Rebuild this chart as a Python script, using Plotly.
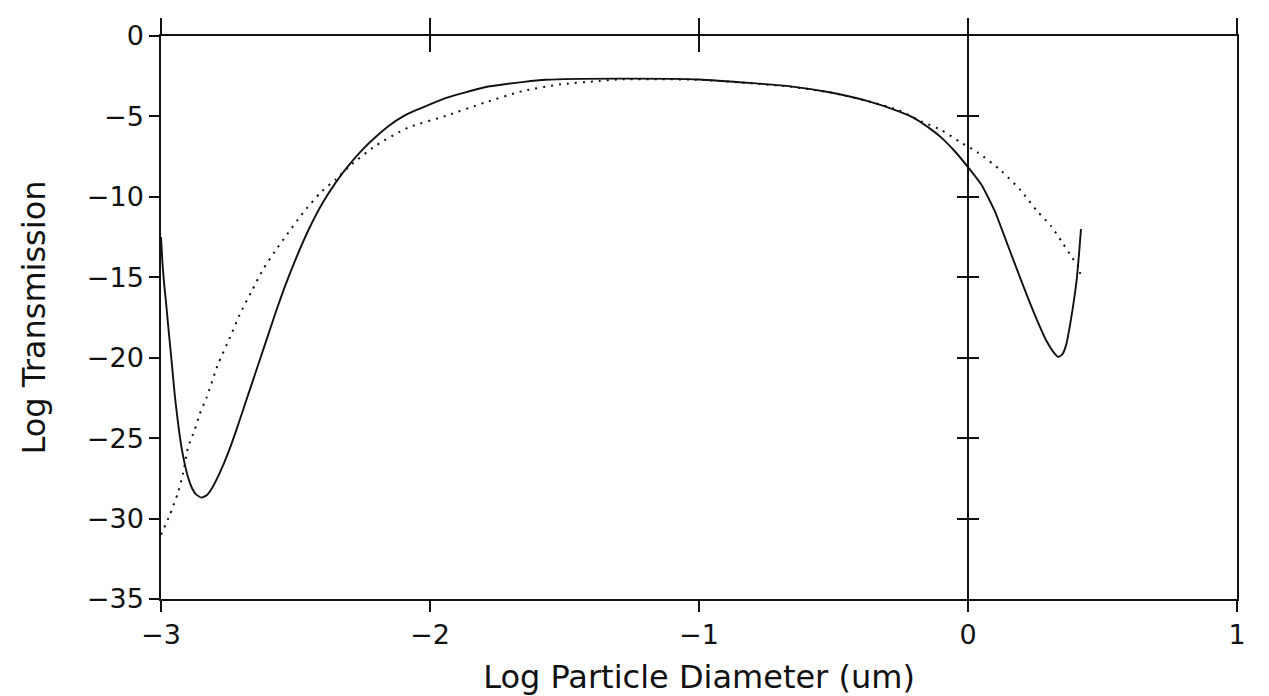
import plotly.graph_objects as go

# Solid curve (log transmission vs log particle diameter)
solid_x = [-3.0, -2.995, -2.99, -2.98, -2.97, -2.96, -2.949, -2.94, -2.93, -2.918, -2.90,
           -2.885, -2.87, -2.85, -2.83, -2.81, -2.78, -2.75, -2.72, -2.69, -2.66, -2.63,
           -2.60, -2.57, -2.54, -2.50, -2.45, -2.40, -2.35, -2.30, -2.25, -2.20, -2.15,
           -2.10, -2.05, -2.0, -1.94, -1.8, -1.65, -1.57, -1.3, -1.0, -0.8, -0.66, -0.515,
           -0.372, -0.26, -0.2, -0.15, -0.1, -0.05, 0.0, 0.05, 0.1, 0.15, 0.2, 0.25, 0.29,
           0.32, 0.335, 0.35, 0.365, 0.38, 0.395, 0.405, 0.413, 0.42]
solid_y = [-12.5, -14.0, -15.1, -16.8, -18.6, -20.3, -22.3, -23.6, -24.9, -26.1, -27.4,
           -28.1, -28.5, -28.7, -28.55, -28.1, -27.1, -25.9, -24.5, -23.0, -21.5, -20.0,
           -18.5, -17.0, -15.6, -13.9, -12.0, -10.4, -9.1, -8.0, -7.05, -6.25, -5.55,
           -5.0, -4.6, -4.25, -3.85, -3.2, -2.85, -2.72, -2.65, -2.7, -2.93, -3.13, -3.5,
           -4.05, -4.67, -5.1, -5.65, -6.3, -7.15, -8.15, -9.25, -10.9, -13.1, -15.3,
           -17.4, -18.9, -19.7, -19.95, -19.8, -19.2, -17.9, -16.3, -15.0, -13.5, -12.0]

# Dotted curve
dot_x = [-3.0, -2.968, -2.937, -2.918, -2.90, -2.875, -2.856, -2.831, -2.788, -2.745,
         -2.707, -2.664, -2.62, -2.577, -2.534, -2.472, -2.405, -2.35, -2.3, -2.2,
         -2.082, -1.94, -1.797, -1.654, -1.513, -1.37, -1.3, -1.0, -0.8, -0.66, -0.515,
         -0.372, -0.26, -0.175, -0.1, -0.026, 0.037, 0.122, 0.196, 0.258, 0.308, 0.351,
         0.388, 0.412, 0.42]
dot_y = [-31.0, -29.8, -28.4, -27.2, -25.6, -24.5, -23.5, -22.5, -20.4, -18.8,
         -17.3, -15.9, -14.5, -13.4, -12.4, -11.0, -9.7, -8.9, -8.1, -6.8,
         -5.7, -4.96, -4.14, -3.42, -3.0, -2.8, -2.7, -2.72, -2.95, -3.15, -3.5,
         -4.05, -4.6, -5.3, -5.84, -6.63, -7.25, -8.36, -9.6, -10.9, -11.8, -12.85,
         -13.8, -14.4, -15.1]

x_ticks = [-3, -2, -1, 0, 1]
x_top_inner_ticks = [-2, -1]
y_ticks = [0, -5, -10, -15, -20, -25, -30, -35]
y_mid_ticks = [-5, -10, -15, -20, -25, -30]
x_range = [-3, 1]
y_range = [-35, 0]

FONT = "DejaVu Sans"
INK = "#111111"

fig = go.Figure()
fig.add_trace(go.Scatter(x=solid_x, y=solid_y, mode="lines",
                         line=dict(color=INK, width=1.9, shape="spline", smoothing=0.5),
                         showlegend=False, hoverinfo="skip"))
fig.add_trace(go.Scatter(x=dot_x, y=dot_y, mode="lines",
                         line=dict(color=INK, width=2, dash="2px,6px",
                                   shape="spline", smoothing=0.6),
                         showlegend=False, hoverinfo="skip"))
# invisible helpers so the auxiliary axes get drawn
for xa, ya in [("x2", "y"), ("x3", "y"), ("x", "y2"), ("x", "y3")]:
    fig.add_trace(go.Scatter(x=[None], y=[None], xaxis=xa, yaxis=ya, mode="lines",
                             showlegend=False, hoverinfo="skip"))

tickfont = dict(family=FONT, size=27, color=INK)
titlefont = dict(family=FONT, size=32, color=INK)

fig.update_layout(
    width=1269, height=696,
    margin=dict(l=153, r=40, t=22, b=105),
    paper_bgcolor="white", plot_bgcolor="white",
    xaxis=dict(range=x_range, tickvals=x_ticks, ticks="outside", ticklen=11,
               tickwidth=1.5, tickcolor=INK, showline=True, linewidth=1.5,
               linecolor=INK, showgrid=False, zeroline=False, tickfont=tickfont,
               title=dict(text="Log Particle Diameter (um)", font=titlefont,
                          standoff=16)),
    xaxis2=dict(range=x_range, overlaying="x", side="top", anchor="y",
                tickvals=x_ticks, ticks="outside", ticklen=16, tickwidth=1.5,
                tickcolor=INK, showline=True, linewidth=1.5, linecolor=INK,
                showgrid=False, zeroline=False, showticklabels=False),
    xaxis3=dict(range=x_range, overlaying="x", side="top", anchor="y",
                tickvals=x_top_inner_ticks, ticks="inside", ticklen=16, tickwidth=1.5,
                tickcolor=INK, showline=False, showgrid=False, zeroline=False,
                showticklabels=False),
    yaxis=dict(range=y_range, tickvals=y_ticks, ticks="outside", ticklen=10,
               tickwidth=1.5, tickcolor=INK, showline=True, linewidth=1.5,
               linecolor=INK, mirror=True, showgrid=False, zeroline=False,
               tickfont=tickfont,
               title=dict(text="Log Transmission", font=titlefont, standoff=32)),
    yaxis2=dict(range=y_range, overlaying="y", anchor="free", position=0.75,
                side="left", tickvals=y_mid_ticks, ticks="outside", ticklen=10,
                tickwidth=1.5, tickcolor=INK, showline=True, linewidth=1.5,
                linecolor=INK, showgrid=False, zeroline=False, showticklabels=False),
    yaxis3=dict(range=y_range, overlaying="y", anchor="free", position=0.75,
                side="right", tickvals=y_mid_ticks, ticks="outside", ticklen=10,
                tickwidth=1.5, tickcolor=INK, showline=False, showgrid=False,
                zeroline=False, showticklabels=False),
)

fig.write_html("out.html")
